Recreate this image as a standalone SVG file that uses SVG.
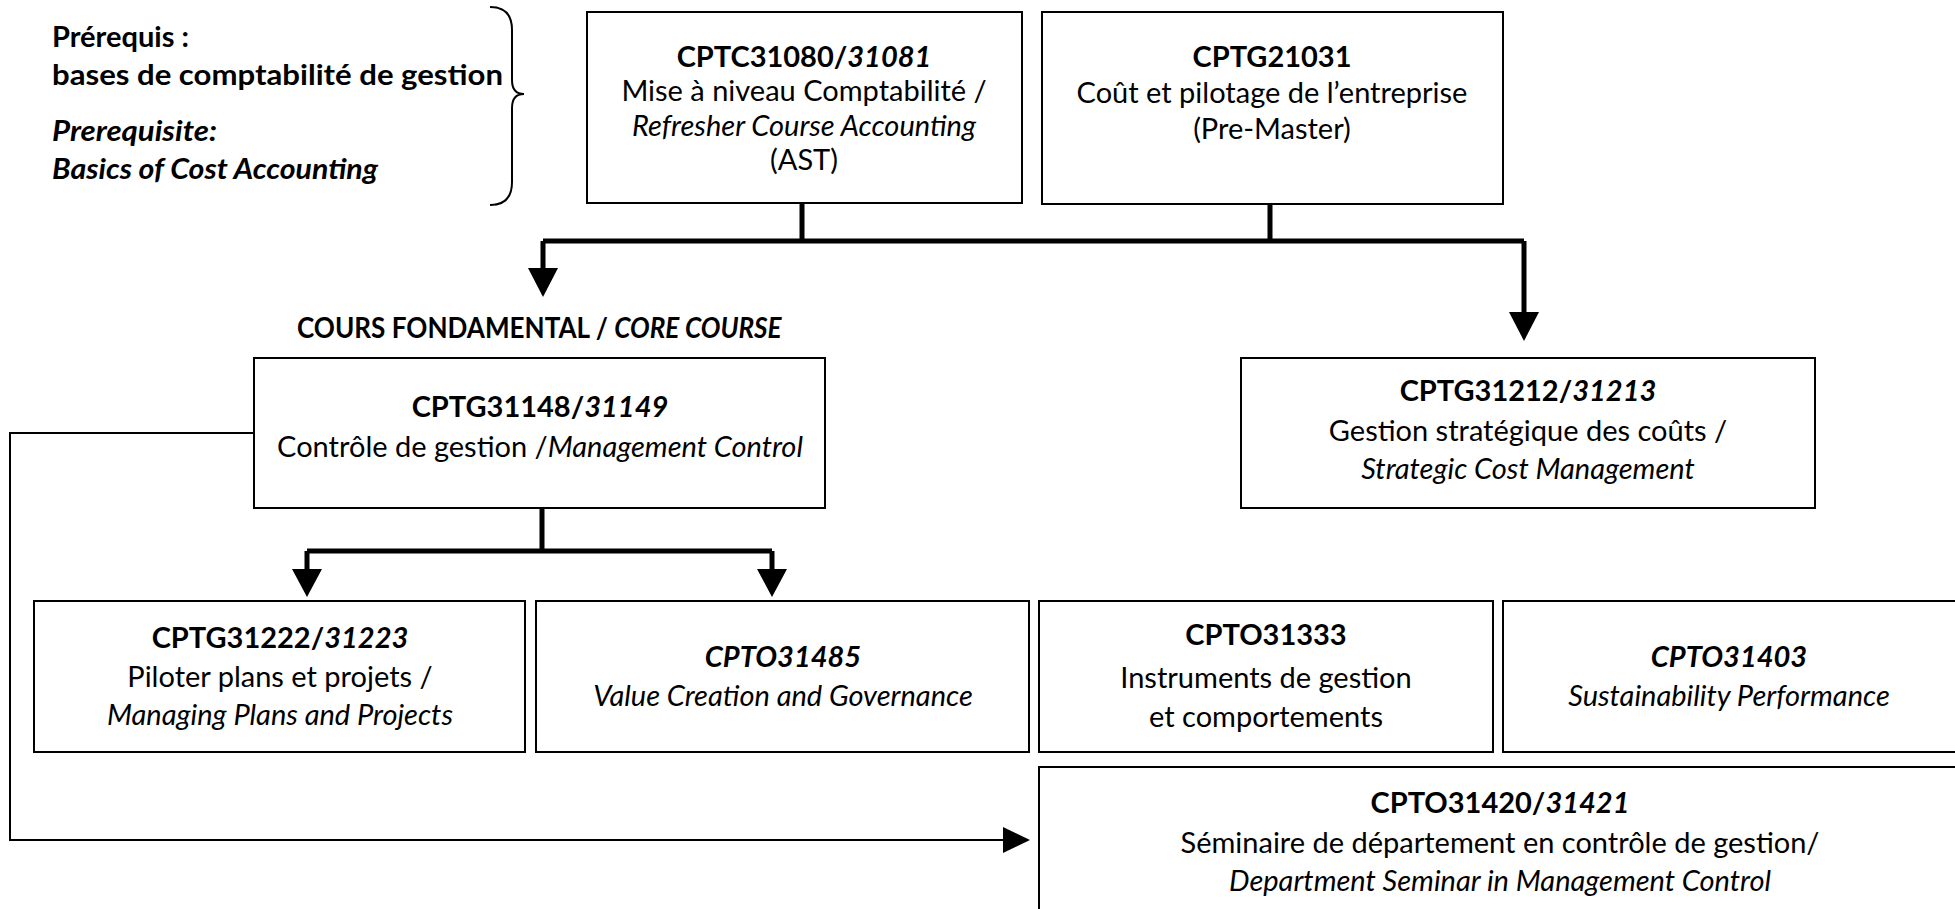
<svg xmlns="http://www.w3.org/2000/svg" width="1955" height="909" viewBox="0 0 1955 909">
<style>
text{font-family:Lato,"Liberation Sans",sans-serif;font-size:29px;fill:#000}
.c{text-anchor:middle}
.b{font-weight:bold}
.i{font-style:italic}
.box{fill:#fff;stroke:#000;stroke-width:2}
.thick{fill:none;stroke:#000;stroke-width:5}
.thin{fill:none;stroke:#000;stroke-width:2}
.head{fill:#000}
</style>
<rect width="1955" height="909" fill="#fff"/>
<g id="prereq">
<text x="52" y="47" class="b">Prérequis :</text>
<text x="52" y="85" class="b" textLength="451" lengthAdjust="spacingAndGlyphs">bases de comptabilité de gestion</text>
<text x="52" y="141" class="b i" textLength="165" lengthAdjust="spacingAndGlyphs">Prerequisite:</text>
<text x="52" y="179" class="b i" textLength="326" lengthAdjust="spacingAndGlyphs">Basics of Cost Accounting</text>
<path class="thin" d="M490,7 Q512,7 512,30 L512,80 Q512,94 524,94 Q512,94 512,108 L512,182 Q512,205 490,205"/>
</g>
<g id="connectors">
<path class="thick" d="M802,203 V241 M1270,204 V241 M543,241 H1524 M543,241 V270 M1524,241 V314"/>
<polygon class="head" points="528,268 558,268 543,297"/>
<polygon class="head" points="1509,312 1539,312 1524,341"/>
<path class="thick" d="M542,508 V551 M307,551 H772 M307,551 V571 M772,551 V571"/>
<polygon class="head" points="292,569 322,569 307,597"/>
<polygon class="head" points="757,569 787,569 772,597"/>
<path class="thin" d="M254,433 H10 V840 H1005"/>
<polygon class="head" points="1003,827 1030,840 1003,853"/>
</g>
<g id="nodeA">
<rect class="box" x="587" y="12" width="435" height="191"/>
<text x="804" y="67" class="c"><tspan class="b">CPTC31080/</tspan><tspan class="b i">31081</tspan></text>
<text x="804" y="101" class="c">Mise à niveau Comptabilité /</text>
<text x="804" y="136" class="c i">Refresher Course Accounting</text>
<text x="804" y="170" class="c">(AST)</text>
</g>
<g id="nodeB">
<rect class="box" x="1042" y="12" width="461" height="192"/>
<text x="1272" y="67" class="c b">CPTG21031</text>
<text x="1272" y="103" class="c">Coût et pilotage de l’entreprise</text>
<text x="1272" y="139" class="c">(Pre-Master)</text>
</g>
<g id="coreLabel">
<text transform="translate(297,338) scale(0.9,1)" x="0" y="0"><tspan class="b">COURS FONDAMENTAL / </tspan><tspan class="b i">CORE COURSE</tspan></text>
</g>
<g id="nodeC">
<rect class="box" x="254" y="358" width="571" height="150"/>
<text x="540" y="417" class="c"><tspan class="b">CPTG31148/</tspan><tspan class="b i">31149</tspan></text>
<text x="540" y="457" class="c">Contrôle de gestion /<tspan class="i">Management Control</tspan></text>
</g>
<g id="nodeD">
<rect class="box" x="1241" y="358" width="574" height="150"/>
<text x="1528" y="401" class="c"><tspan class="b">CPTG31212/</tspan><tspan class="b i">31213</tspan></text>
<text x="1528" y="441" class="c">Gestion stratégique des coûts /</text>
<text x="1528" y="479" class="c i">Strategic Cost Management</text>
</g>
<g id="nodeE">
<rect class="box" x="34" y="601" width="491" height="151"/>
<text x="280" y="648" class="c"><tspan class="b">CPTG31222/</tspan><tspan class="b i">31223</tspan></text>
<text x="280" y="687" class="c">Piloter plans et projets /</text>
<text x="280" y="725" class="c i">Managing Plans and Projects</text>
</g>
<g id="nodeF">
<rect class="box" x="536" y="601" width="493" height="151"/>
<text x="783" y="667" class="c b i">CPTO31485</text>
<text x="783" y="706" class="c i">Value Creation and Governance</text>
</g>
<g id="nodeG">
<rect class="box" x="1039" y="601" width="454" height="151"/>
<text x="1266" y="645" class="c b">CPTO31333</text>
<text x="1266" y="688" class="c">Instruments de gestion</text>
<text x="1266" y="727" class="c">et comportements</text>
</g>
<g id="nodeH">
<rect class="box" x="1503" y="601" width="460" height="151"/>
<text x="1729" y="667" class="c b i">CPTO31403</text>
<text x="1729" y="706" class="c i">Sustainability Performance</text>
</g>
<g id="nodeI">
<rect class="box" x="1039" y="767" width="924" height="150"/>
<text x="1500" y="813" class="c"><tspan class="b">CPTO31420/</tspan><tspan class="b i">31421</tspan></text>
<text x="1500" y="853" class="c">Séminaire de département en contrôle de gestion/</text>
<text x="1500" y="891" class="c i">Department Seminar in Management Control</text>
</g>
</svg>
